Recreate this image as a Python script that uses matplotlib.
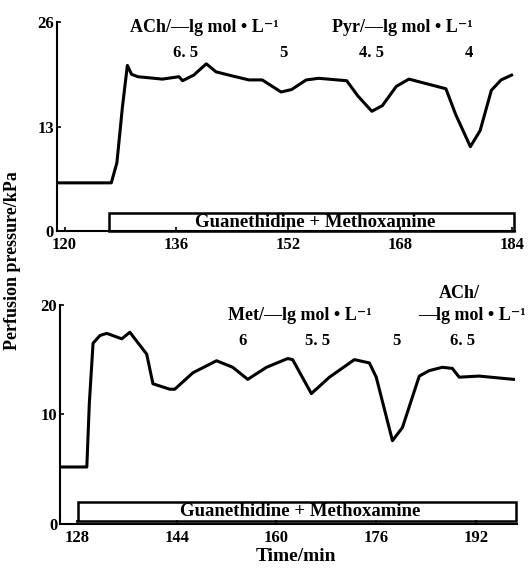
import matplotlib
matplotlib.use("Agg")
import matplotlib.pyplot as plt
from matplotlib.patches import Rectangle

# ---- Top panel data ----
top_time = [118.9, 126.7, 127.5, 128.3, 129.0, 129.6, 130.5, 134.0, 136.4, 136.9,
            138.5, 140.3, 141.7, 144.0, 146.4, 148.3, 151.0, 152.5, 154.6, 156.4,
            160.4, 162.0, 164.0, 165.5, 167.5, 169.3, 174.6, 176.0, 178.1, 179.5,
            181.1, 182.5, 184.0]
top_pressure = [6.0, 6.0, 8.5, 15.5, 20.6, 19.5, 19.2, 18.9, 19.2, 18.7,
                19.4, 20.8, 19.8, 19.3, 18.8, 18.8, 17.3, 17.6, 18.8, 19.0,
                18.7, 16.8, 14.9, 15.6, 18.0, 18.9, 17.7, 14.5, 10.5, 12.5,
                17.5, 18.8, 19.4]
top_xticks = [120, 136, 152, 168, 184]
top_yticks = [0, 13, 26]
top_box = (126.4, 184.3, 2.2)          # start, end, height
top_headers = ["ACh/\u2014lg mol \u2022 L\u207b\u00b9", "Pyr/\u2014lg mol \u2022 L\u207b\u00b9"]
top_header_x = [140.0, 168.3]
top_conc = ["6. 5", "5", "4. 5", "4"]
top_conc_x = [137.4, 151.3, 164.0, 177.9]

# ---- Bottom panel data ----
bot_time = [125.3, 129.6, 130.0, 130.6, 131.7, 132.8, 135.2, 136.5, 139.2, 140.2,
            142.9, 143.7, 146.6, 150.4, 153.0, 155.4, 158.4, 161.8, 162.6, 165.6,
            168.5, 172.5, 174.9, 176.0, 178.6, 180.2, 182.9, 184.5, 186.6, 188.2,
            189.3, 192.5, 198.0]
bot_pressure = [5.2, 5.2, 11.0, 16.5, 17.2, 17.4, 16.9, 17.5, 15.5, 12.8,
                12.3, 12.3, 13.8, 14.9, 14.3, 13.2, 14.3, 15.1, 15.0, 11.9,
                13.4, 15.0, 14.7, 13.4, 7.6, 8.8, 13.5, 14.0, 14.3, 14.2,
                13.4, 13.5, 13.2]
bot_xticks = [128, 144, 160, 176, 192]
bot_yticks = [0, 10, 20]
bot_box = (128.2, 198.4, 2.0)
bot_headers = ["Met/\u2014lg mol \u2022 L\u207b\u00b9", "\u2014lg mol \u2022 L\u207b\u00b9"]
bot_header_x = [163.7, 191.4]
bot_ach_label = "ACh/"
bot_ach_x = 189.3
bot_conc = ["6", "5. 5", "5", "6. 5"]
bot_conc_x = [154.6, 166.6, 179.2, 189.8]

box_text = "Guanethidine + Methoxamine"

FAM = ['Liberation Serif', 'DejaVu Serif']
plt.rcParams['font.family'] = FAM
plt.rcParams['font.weight'] = 'bold'

fig = plt.figure(figsize=(5.31, 5.72), dpi=100)
ax1 = fig.add_axes([0.107, 0.596, 0.863, 0.3655])
ax2 = fig.add_axes([0.113, 0.084, 0.861, 0.383])

def style(ax, xlim, ylim, xticks, yticks):
    ax.set_xlim(*xlim)
    ax.set_ylim(*ylim)
    ax.set_xticks(xticks)
    ax.set_yticks(yticks)
    for s in ['top', 'right']:
        ax.spines[s].set_visible(False)
    for s in ['left', 'bottom']:
        ax.spines[s].set_linewidth(1.5)
    ax.tick_params(direction='in', length=3, width=1.2, labelsize=12)
    ax.tick_params(axis='x', pad=4)
    ax.tick_params(axis='y', pad=2)
    for lab in ax.get_xticklabels() + ax.get_yticklabels():
        lab.set_fontweight('bold')

style(ax1, (118.9, 184.5), (0, 26), top_xticks, top_yticks)
style(ax2, (125.3, 198.6), (0, 20), bot_xticks, bot_yticks)

ax1.plot(top_time, top_pressure, color='black', lw=2.2, solid_joinstyle='round')
ax2.plot(bot_time, bot_pressure, color='black', lw=2.2, solid_joinstyle='round')

for ax, (x0, x1, h), ybot in [(ax1, top_box, 0.0), (ax2, bot_box, 0.3)]:
    ax.add_patch(Rectangle((x0, ybot), x1 - x0, h - ybot, fill=False,
                           edgecolor='black', lw=1.8, clip_on=False))
    ax.text((x0 + x1) / 2 + 0.5, (h + ybot) / 2, box_text, ha='center',
            va='center', fontsize=13.5, fontweight='bold')

for t, x in zip(top_headers, top_header_x):
    ax1.text(x, 25.3, t, ha='center', va='center', fontsize=13, fontweight='bold')
for t, x in zip(top_conc, top_conc_x):
    ax1.text(x, 22.1, t, ha='center', va='center', fontsize=12, fontweight='bold')

ax2.text(bot_ach_x, 21.0, bot_ach_label, ha='center', va='center', fontsize=13,
         fontweight='bold', clip_on=False)
for t, x in zip(bot_headers, bot_header_x):
    ax2.text(x, 19.0, t, ha='center', va='center', fontsize=13, fontweight='bold',
             clip_on=False)
for t, x in zip(bot_conc, bot_conc_x):
    ax2.text(x, 16.7, t, ha='center', va='center', fontsize=12, fontweight='bold')

fig.text(0.557, 0.012, "Time/min", ha='center', va='bottom', fontsize=14,
         fontweight='bold')
fig.text(0.024, 0.545, "Perfusion pressure/kPa", rotation=90, ha='center',
         va='center', fontsize=13, fontweight='bold')

fig.savefig("out.png", dpi=100)
